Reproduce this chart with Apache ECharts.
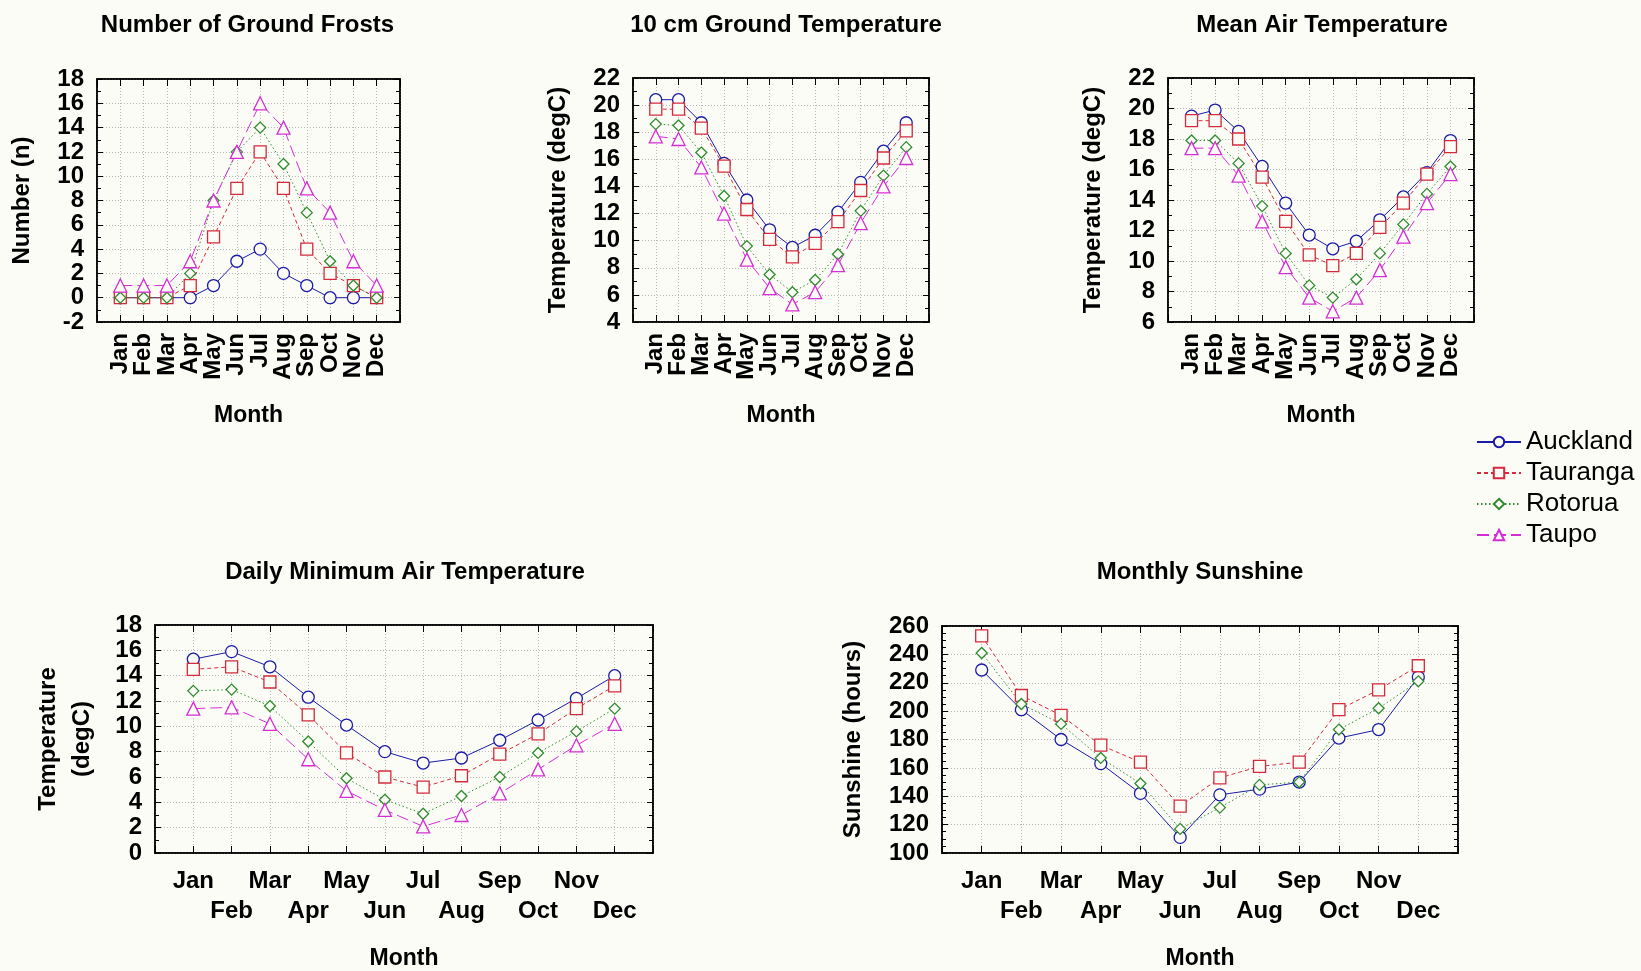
<!DOCTYPE html>
<html>
<head>
<meta charset="utf-8">
<script src="https://cdn.jsdelivr.net/npm/echarts@6/dist/echarts.min.js"></script>
<style>
  html, body { margin: 0; padding: 0; background: #fcfcf6; }
  #main { width: 1641px; height: 971px; }
</style>
</head>
<body>
<div id="main"></div>
<script>
const months = ['Jan', 'Feb', 'Mar', 'Apr', 'May', 'Jun', 'Jul', 'Aug', 'Sep', 'Oct', 'Nov', 'Dec'];
const stations = ['Auckland', 'Tauranga', 'Rotorua', 'Taupo'];

const frostAuckland = [0, 0, 0, 0, 1, 3, 4, 2, 1, 0, 0, 0];
const frostTauranga = [0, 0, 0, 1, 5, 9, 12, 9, 4, 2, 1, 0];
const frostRotorua = [0, 0, 0, 2, 8, 12, 14, 11, 7, 3, 1, 0];
const frostTaupo = [1, 1, 1, 3, 8, 12, 16, 14, 9, 7, 3, 1];

const groundAuckland = [20.4, 20.4, 18.7, 15.7, 13.0, 10.8, 9.5, 10.4, 12.1, 14.3, 16.6, 18.7];
const groundTauranga = [19.7, 19.7, 18.3, 15.5, 12.3, 10.1, 8.8, 9.8, 11.4, 13.7, 16.1, 18.1];
const groundRotorua = [18.6, 18.5, 16.5, 13.3, 9.6, 7.5, 6.2, 7.1, 9.0, 12.2, 14.8, 16.9];
const groundTaupo = [17.7, 17.5, 15.4, 12.0, 8.6, 6.5, 5.3, 6.2, 8.2, 11.3, 14.0, 16.1];

const meanAuckland = [19.5, 19.9, 18.5, 16.2, 13.8, 11.7, 10.8, 11.3, 12.7, 14.2, 15.8, 17.9];
const meanTauranga = [19.2, 19.2, 18.0, 15.5, 12.6, 10.4, 9.7, 10.5, 12.2, 13.8, 15.7, 17.5];
const meanRotorua = [17.9, 17.9, 16.4, 13.6, 10.5, 8.4, 7.6, 8.8, 10.5, 12.4, 14.4, 16.2];
const meanTaupo = [17.4, 17.4, 15.6, 12.6, 9.6, 7.6, 6.7, 7.6, 9.4, 11.6, 13.8, 15.7];

const minAuckland = [15.3, 15.9, 14.7, 12.3, 10.1, 8.0, 7.1, 7.5, 8.9, 10.5, 12.2, 14.0];
const minTauranga = [14.5, 14.7, 13.5, 10.9, 7.9, 6.0, 5.2, 6.1, 7.8, 9.4, 11.4, 13.2];
const minRotorua = [12.8, 12.9, 11.6, 8.8, 5.9, 4.2, 3.1, 4.5, 6.0, 7.9, 9.6, 11.4];
const minTaupo = [11.4, 11.5, 10.2, 7.4, 4.9, 3.4, 2.1, 3.0, 4.7, 6.6, 8.5, 10.2];

const sunAuckland = [229, 201, 180, 163, 142, 111, 141, 145, 150, 181, 187, 224];
const sunTauranga = [253, 211, 197, 176, 164, 133, 153, 161, 164, 201, 215, 232];
const sunRotorua = [241, 205, 191, 167, 149, 117, 132, 148, 150, 187, 202, 221];

const bg = '#fcfcf6';
const font = 'Liberation Sans, Arial, sans-serif';

// line look per station
const looks = {
  Auckland: {color: '#1a1aa8', type: 'solid', symbol: 'circle', size: 12},
  Tauranga: {color: '#d42a3c', type: [4, 3], symbol: 'rect', size: 12},
  Rotorua: {color: '#2e8b2e', type: [1.5, 2.5], symbol: 'diamond', size: 11},
  Taupo: {color: '#d62cd6', type: [12, 5], symbol: 'triangle', size: 13}
};

const panels = [
  {title: 'Number of Ground Frosts', yName: 'Number (n)', left: 97, top: 79, width: 303, height: 243,
    min: -2, max: 18, interval: 2, minor: 2, rotated: true, yGap: 58, xGap: 82, tx: -6,
    data: {Auckland: frostAuckland, Tauranga: frostTauranga, Rotorua: frostRotorua, Taupo: frostTaupo}},
  {title: '10 cm Ground Temperature', yName: 'Temperature (degC)', left: 633, top: 78, width: 296, height: 244,
    min: 4, max: 22, interval: 2, minor: 2, rotated: true, yGap: 58, xGap: 82, tx: 0,
    data: {Auckland: groundAuckland, Tauranga: groundTauranga, Rotorua: groundRotorua, Taupo: groundTaupo}},
  {title: 'Mean Air Temperature', yName: 'Temperature (degC)', left: 1168, top: 78, width: 306, height: 244,
    min: 6, max: 22, interval: 2, minor: 2, rotated: true, yGap: 58, xGap: 82, tx: -4,
    data: {Auckland: meanAuckland, Tauranga: meanTauranga, Rotorua: meanRotorua, Taupo: meanTaupo}},
  {title: 'Daily Minimum Air Temperature', yName: 'Temperature\n(degC)', left: 155, top: 625, width: 498, height: 232,
    min: 0, max: 18, interval: 2, minor: 2, rotated: false, yGap: 56, xGap: 94, tx: -4,
    data: {Auckland: minAuckland, Tauranga: minTauranga, Rotorua: minRotorua, Taupo: minTaupo}},
  {title: 'Monthly Sunshine', yName: 'Sunshine (hours)', left: 942, top: 626, width: 516, height: 230,
    min: 100, max: 260, interval: 20, minor: 4, rotated: false, yGap: 72, xGap: 94, tx: -5,
    data: {Auckland: sunAuckland, Tauranga: sunTauranga, Rotorua: sunRotorua}}
];

const labelStyle = {color: '#000', fontFamily: font, fontSize: 24, fontWeight: 'bold'};
const nameStyle = {color: '#000', fontFamily: font, fontSize: 23, fontWeight: 'bold'};

const grid = [], xAxis = [], yAxis = [], series = [], title = [];

panels.forEach((p, k) => {
  grid.push({left: p.left, top: p.top, width: p.width, height: p.height, show: true,
    backgroundColor: bg, borderColor: '#000', borderWidth: 1.5});
  title.push({text: p.title, left: p.left + p.width / 2 + p.tx,
    top: k < 3 ? 8 : 555, textAlign: 'center',
    textStyle: {color: '#000', fontFamily: font, fontSize: 24, fontWeight: 'bold'}});

  const xLabel = p.rotated
    ? {rotate: 90, margin: 11, ...labelStyle,
       formatter: v => (v >= 1 && v <= 12) ? months[v - 1] : ''}
    : {margin: 13, ...labelStyle, lineHeight: 30, verticalAlign: 'top',
       formatter: v => (v >= 1 && v <= 12) ? (v % 2 === 0 ? '\n' : '') + months[v - 1] : ''};

  xAxis.push({type: 'value', gridIndex: k, position: 'bottom', min: 0, max: 13, interval: 1,
    name: 'Month', nameLocation: 'middle', nameGap: p.xGap, nameTextStyle: nameStyle,
    axisLine: {show: true, onZero: false, lineStyle: {color: '#000', width: 1.5}},
    axisTick: {inside: true, length: 7, lineStyle: {color: '#000'}},
    axisLabel: xLabel,
    splitLine: {show: true, lineStyle: {color: '#b8b8b8', type: [1, 2]}}});
  xAxis.push({type: 'value', gridIndex: k, position: 'top', min: 0, max: 13, interval: 1,
    axisLine: {show: true, onZero: false, lineStyle: {color: '#000', width: 1.5}},
    axisTick: {inside: true, length: 7, lineStyle: {color: '#000'}},
    axisLabel: {show: false}, splitLine: {show: false}});

  yAxis.push({type: 'value', gridIndex: k, position: 'left', min: p.min, max: p.max, interval: p.interval,
    name: p.yName, nameLocation: 'middle', nameGap: p.yGap, nameRotate: 90,
    nameTextStyle: {...nameStyle, fontSize: 24, lineHeight: 34},
    axisLine: {show: true, onZero: false, lineStyle: {color: '#000', width: 1.5}},
    axisTick: {inside: true, length: 6, lineStyle: {color: '#000'}},
    minorTick: {show: true, splitNumber: p.minor, length: 4, lineStyle: {color: '#000'}},
    axisLabel: {margin: 13, ...labelStyle},
    splitLine: {show: true, lineStyle: {color: '#b8b8b8', type: [1, 2]}}});
  yAxis.push({type: 'value', gridIndex: k, position: 'right', min: p.min, max: p.max, interval: p.interval,
    axisLine: {show: true, onZero: false, lineStyle: {color: '#000', width: 1.5}},
    axisTick: {inside: true, length: 6, lineStyle: {color: '#000'}},
    minorTick: {show: true, splitNumber: p.minor, length: 4, lineStyle: {color: '#000'}},
    axisLabel: {show: false}, splitLine: {show: false}});

  stations.forEach(name => {
    const vals = p.data[name];
    if (!vals) return;
    const lk = looks[name];
    series.push({
      type: 'line', name: name, xAxisIndex: 2 * k, yAxisIndex: 2 * k,
      data: vals.map((v, i) => [i + 1, v]),
      symbol: lk.symbol, symbolSize: lk.size, showAllSymbol: true,
      lineStyle: {color: lk.color, width: 1, type: lk.type},
      itemStyle: {color: bg, borderColor: lk.color, borderWidth: 1.3},
      emphasis: {disabled: true},
      animation: false
    });
  });
});

const chart = echarts.init(document.getElementById('main'));
chart.setOption({
  backgroundColor: bg,
  animation: false,
  title: title,
  grid: grid,
  xAxis: xAxis,
  yAxis: yAxis,
  legend: {
    data: stations, orient: 'vertical', left: 1471, top: 424,
    itemWidth: 44, itemHeight: 13, itemGap: 5,
    textStyle: {color: '#000', fontFamily: font, fontSize: 26}
  },
  series: series
});
</script>
</body>
</html>
